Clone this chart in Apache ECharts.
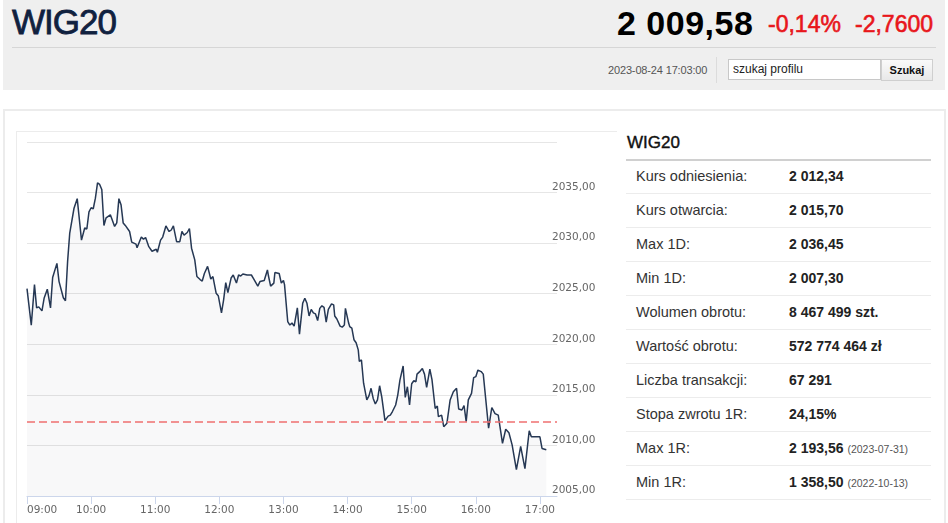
<!DOCTYPE html>
<html>
<head>
<meta charset="utf-8">
<script src="https://cdn.jsdelivr.net/npm/echarts@6/dist/echarts.min.js"></script>
<style>
  html, body { margin:0; padding:0; width:948px; height:523px; overflow:hidden; background:#fff; font-family:"Liberation Sans", Arial, sans-serif; }
  .abs { position:absolute; }
  #head { left:3px; top:0; width:942px; height:90px; background:#efefef; }
  #title { left:12px; top:2px; font-size:35px; letter-spacing:-1px; color:#10213f; line-height:40px; -webkit-text-stroke:0.8px #10213f; }
  #price { left:617px; top:3px; font-size:34px; font-weight:bold; letter-spacing:0.5px; color:#000; line-height:40px; }
  .red { color:#e8161b; font-size:23px; line-height:30px; top:9px; -webkit-text-stroke:0.6px #e8161b; }
  #sep1 { left:12px; top:47px; width:924px; height:1px; background:#d6d6d6; }
  #date { left:608px; top:63px; font-size:11px; letter-spacing:-0.15px; color:#555; line-height:14px; }
  #vsep { left:716px; top:57px; width:1px; height:26px; background:#dcdcdc; }
  #inp { left:728px; top:59px; width:147px; height:19px; background:#fff; border:1px solid #c8c8c8; font-size:12px; line-height:19px; color:#222; padding-left:4px; box-sizing:content-box; }
  #btn { left:881px; top:59px; width:50px; height:20px; background:linear-gradient(#fafafa,#e8e8e8); border:1px solid #cfcfcf; font-size:11px; font-weight:bold; line-height:20px; text-align:center; color:#111; }
  #panel { left:3px; top:109px; width:939px; height:430px; border:2px solid #ececec; }
  #chartbox { left:16px; top:131px; width:600px; height:400px; border-top:1px solid #ececec; border-left:1px solid #ececec; }
  #chart { left:16px; top:132px; width:584px; height:391px; }
  #tabhead { left:627px; top:133px; font-size:17px; line-height:20px; color:#111; -webkit-text-stroke:0.4px #111; }
  #tabline { left:626px; top:159px; width:305px; height:2px; background:#d0d0d0; }
  .row { position:absolute; left:626px; width:305px; height:33px; border-bottom:1px solid #ececec; }
  .row .lab { position:absolute; left:10px; top:0; line-height:33px; font-size:14.5px; color:#333; }
  .row .val { position:absolute; left:163px; top:0; line-height:33px; font-size:14px; font-weight:bold; color:#222; white-space:nowrap; }
  .row .dt { font-size:10.5px; font-weight:normal; color:#555; }
</style>
</head>
<body>
<div id="head" class="abs"></div>
<div id="title" class="abs">WIG20</div>
<div id="price" class="abs">2 009,58</div>
<div class="abs red" style="left:768px">-0,14%</div>
<div class="abs red" style="left:855px">-2,7600</div>
<div id="sep1" class="abs"></div>
<div id="date" class="abs">2023-08-24 17:03:00</div>
<div id="vsep" class="abs"></div>
<div id="inp" class="abs">szukaj profilu</div>
<div id="btn" class="abs">Szukaj</div>
<div id="panel" class="abs"></div>
<div id="chartbox" class="abs"></div>
<div id="chart" class="abs"></div>
<div id="tabhead" class="abs">WIG20</div>
<div id="tabline" class="abs"></div>
<div id="rows"></div>
<script>
// ---- chart data ----
const times = ["09:00","09:04","09:05","09:07","09:09","09:11","09:14","09:16","09:19","09:22","09:24","09:25","09:28","09:30","09:34","09:36","09:38","09:40","09:44","09:47","09:51","09:54","09:56","09:58",
"10:00","10:02","10:04","10:06","10:08","10:10","10:12","10:14","10:18","10:22","10:24","10:26","10:28","10:30","10:32","10:36","10:38","10:42","10:43","10:47","10:49","10:51","10:54","10:57",
"11:01","11:02","11:05","11:07","11:10","11:13","11:15","11:17","11:20","11:23","11:25","11:27","11:30","11:32","11:34","11:37","11:39","11:42","11:44","11:46","11:49","11:52","11:54","11:57","11:59",
"12:02","12:04","12:06","12:08","12:11","12:13","12:16","12:18","12:20","12:22","12:26","12:30","12:32","12:36","12:38","12:42","12:45","12:46","12:48","12:51","12:52","12:56","12:58",
"13:00","13:01","13:04","13:06","13:08","13:10","13:13","13:15","13:18","13:20","13:22","13:24","13:26","13:28","13:30","13:32","13:34","13:36","13:38","13:40","13:42","13:45","13:47","13:48","13:50","13:53","13:55","13:57","13:58",
"14:01","14:02","14:04","14:06","14:08","14:10","14:11","14:13","14:15","14:18","14:20","14:22","14:24","14:26","14:28","14:30","14:32","14:33","14:35","14:38","14:40","14:42","14:45","14:47","14:49","14:52","14:54","14:56","14:58",
"15:00","15:02","15:04","15:05","15:08","15:10","15:12","15:14","15:17","15:19","15:22","15:24","15:25","15:28","15:30","15:33","15:36","15:39","15:42","15:44","15:47","15:49","15:51","15:53","15:56","15:58",
"16:00","16:02","16:05","16:07","16:12","16:15","16:18","16:21","16:25","16:28","16:31","16:32","16:34","16:38","16:42","16:43","16:46","16:50","16:52",
"17:00","17:02","17:06"];
const values = [2025.5,2021.9,2021.85,2025.9,2023.6,2023.7,2023.3,2024.55,2025.45,2023.6,2026.6,2026.45,2028.0,2026.2,2024.6,2024.3,2028.2,2031.0,2033.45,2034.4,2030.3,2031.5,2031.4,2033.1,
2033.5,2033.4,2034.45,2035.95,2035.8,2035.3,2031.75,2032.5,2032.8,2031.65,2032.0,2034.4,2033.8,2032.0,2031.75,2031.15,2030.1,2029.9,2029.55,2030.6,2030.4,2030.55,2029.65,2029.2,
2029.4,2029.1,2030.3,2030.6,2031.7,2031.15,2031.3,2031.7,2030.15,2030.15,2031.15,2030.8,2031.05,2031.45,2029.5,2028.35,2026.7,2026.4,2026.25,2027.0,2027.7,2026.45,2026.7,2025.05,2024.8,
2023.1,2024.4,2026.1,2025.1,2026.55,2026.85,2026.05,2026.85,2026.75,2026.95,2026.85,2026.85,2026.5,2025.75,2026.2,2026.3,2027.35,2026.75,2025.75,2026.05,2027.1,2027.0,2026.05,
2026.3,2025.9,2022.25,2021.9,2022.1,2021.8,2023.6,2021.0,2024.05,2024.55,2024.05,2022.8,2023.45,2023.1,2023.0,2022.35,2023.55,2023.8,2023.65,2022.2,2023.45,2024.0,2023.9,2022.8,2022.5,2021.8,2021.7,2021.9,2023.55,
2022.1,2021.75,2021.6,2020.45,2020.15,2019.45,2018.3,2018.45,2016.15,2014.5,2014.9,2015.65,2014.65,2014.1,2014.5,2015.9,2014.8,2014.9,2012.45,2012.9,2013.0,2013.35,2014.0,2015.0,2016.45,2017.85,2014.75,2015.8,2014.0,
2016.1,2016.4,2016.3,2017.05,2017.35,2017.6,2017.05,2015.75,2017.55,2016.5,2013.65,2013.9,2012.85,2013.0,2011.85,2012.2,2014.5,2015.3,2015.65,2013.6,2013.5,2013.95,2012.35,2014.5,2015.15,2016.7,
2016.8,2017.45,2017.3,2017.05,2011.7,2013.75,2013.15,2013.0,2010.2,2011.6,2011.25,2011.2,2010.05,2007.6,2009.9,2010.05,2007.7,2011.45,2010.85,
2010.85,2009.7,2009.58];
const referenceValue = 2012.34;          // Kurs odniesienia (dashed line)
const hourLabels = ["09:00","10:00","11:00","12:00","13:00","14:00","15:00","16:00","17:00"];
const axisEndTime = "17:16";
const yMin = 2005, yMax = 2040, yStep = 5;

// ---- table data ----
const statLabels = ["Kurs odniesienia:","Kurs otwarcia:","Max 1D:","Min 1D:","Wolumen obrotu:","Wartość obrotu:","Liczba transakcji:","Stopa zwrotu 1R:","Max 1R:","Min 1R:"];
const statValues = ["2 012,34","2 015,70","2 036,45","2 007,30","8 467 499 szt.","572 774 464 zł","67 291","24,15%","2 193,56","1 358,50"];
const statDates  = ["","","","","","","","","(2023-07-31)","(2022-10-13)"];

const rowsEl = document.getElementById('rows');
statLabels.forEach((l, i) => {
  const r = document.createElement('div');
  r.className = 'row';
  r.style.top = (160 + 34 * i) + 'px';
  r.innerHTML = '<span class="lab">' + l + '</span><span class="val">' + statValues[i] +
    (statDates[i] ? ' <span class="dt">' + statDates[i] + '</span>' : '') + '</span>';
  rowsEl.appendChild(r);
});

// ---- chart ----
const toMin = s => { const p = s.split(':').map(Number); return (p[0] - 9) * 60 + p[1]; };
const toLabel = m => { const h = 9 + Math.floor(m / 60), mm = m % 60; return (h < 10 ? '0' : '') + h + ':' + (mm < 10 ? '0' : '') + mm; };
const seriesData = times.map((t, i) => [toMin(t), values[i]]);
const hourTicks = hourLabels.map(toMin);

const chart = echarts.init(document.getElementById('chart'), null, { renderer: 'canvas' });
chart.setOption({
  animation: false,
  grid: { left: 11, top: 10, right: 43, bottom: 27 },
  xAxis: {
    type: 'value', min: 0, max: toMin(axisEndTime),
    axisLine: { show: true, lineStyle: { color: '#ccd6eb', width: 1 } },
    axisTick: { show: true, length: 8, lineStyle: { color: '#ccd6eb' }, customValues: hourTicks },
    splitLine: { show: false },
    axisLabel: {
      customValues: hourTicks, formatter: v => toLabel(v),
      color: '#666', fontFamily: 'DejaVu Sans', fontSize: 10.5, margin: 9,
      alignMinLabel: 'left'
    }
  },
  yAxis: {
    type: 'value', position: 'right', min: yMin, max: yMax, interval: yStep,
    axisLine: { show: false }, axisTick: { show: false },
    splitLine: { show: true, lineStyle: { color: '#e6e6e6', width: 1 } },
    axisLabel: {
      formatter: v => v.toFixed(2).replace('.', ','),
      showMaxLabel: false,
      color: '#666', fontFamily: 'DejaVu Sans', fontSize: 10.5,
      margin: -5, verticalAlign: 'bottom', align: 'left'
    }
  },
  series: [{
    type: 'line', data: seriesData, showSymbol: false, symbol: 'none',
    lineStyle: { color: '#263854', width: 1.5 },
    areaStyle: { color: 'rgba(43,59,87,0.05)' },
    silent: true,
    markLine: {
      silent: true, symbol: 'none', label: { show: false },
      lineStyle: { color: '#f07070', type: [8, 4], width: 1.5 },
      data: [{ yAxis: referenceValue }]
    }
  }]
});
</script>
</body>
</html>
